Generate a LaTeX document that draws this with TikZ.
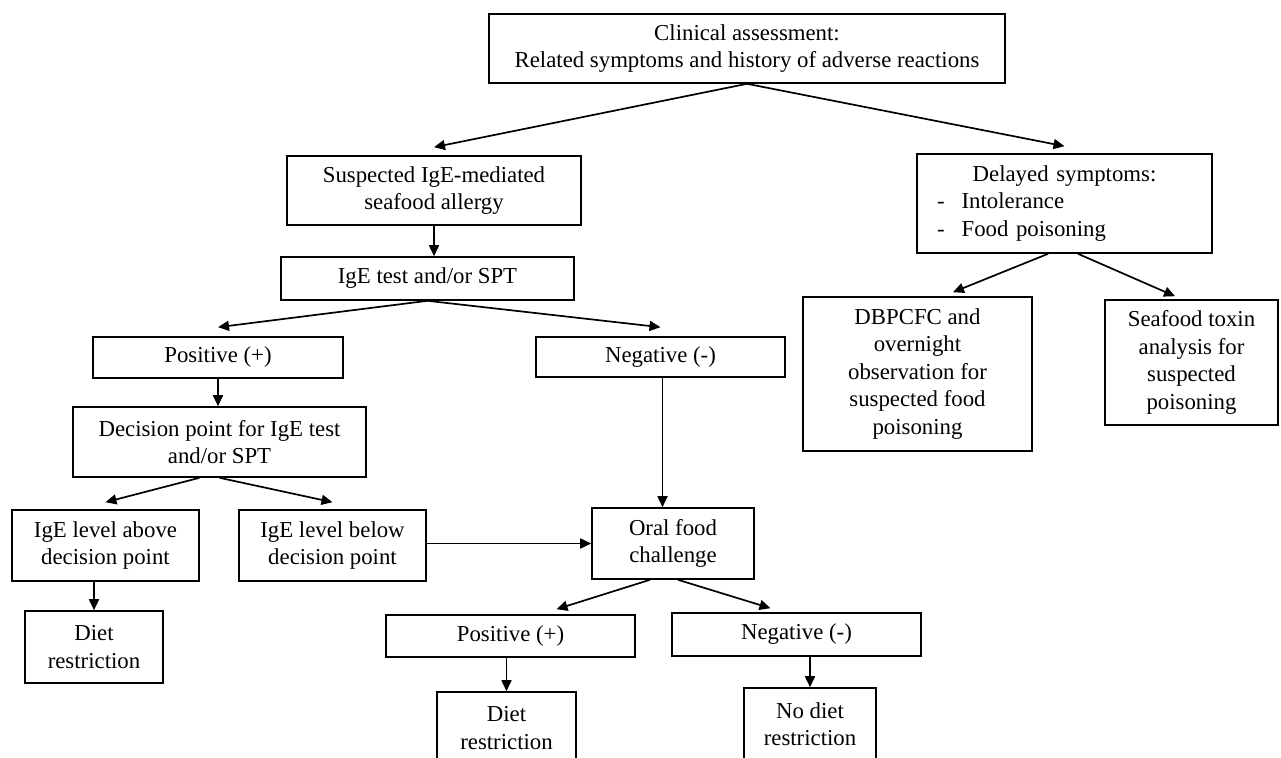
\documentclass[tikz,border=0pt]{standalone}
\usepackage{fontspec}
\setmainfont{Liberation Serif}
\usetikzlibrary{arrows.meta}
\begin{document}
\begin{tikzpicture}[x=1pt,y=-1pt,
  font=\fontsize{22.8}{27.5}\selectfont,
  box/.style={draw, line width=1.6pt, align=center, inner sep=0pt},
  arr/.style={line width=1.7pt, -{Triangle[length=11pt,width=10pt]}}]
  \useasboundingbox (0,0) rectangle (1281,757);
  % clinical branch
  \node[box, minimum width=516pt, minimum height=69pt] (assess) at (747,48.5) {Clinical assessment:\\ Related symptoms and history of adverse reactions};
  \node[box, minimum width=294pt, minimum height=69pt] (suspect) at (434,190.5) {Suspected IgE-mediated\\ seafood allergy};
  \node[box, minimum width=293pt, minimum height=43pt] (igetest) at (427.5,278.5) {IgE test and/or SPT};
  \node[box, minimum width=250pt, minimum height=41pt] (posA) at (218,357.5) {Positive (+)};
  \node[box, minimum width=249pt, minimum height=40pt] (negA) at (660.5,357) {Negative (-)};
  \node[box, minimum width=293pt, minimum height=70pt] (decision) at (219.5,442) {Decision point for IgE test\\ and/or SPT};
  \node[box, minimum width=187pt, minimum height=71pt] (above) at (105.5,545.5) {IgE level above\\ decision point};
  \node[box, minimum width=187pt, minimum height=71pt] (below) at (332.5,545.5) {IgE level below\\ decision point};
  \node[box, minimum width=138pt, minimum height=72pt] (dietA) at (94,647) {Diet\\ restriction};
  \node[box, minimum width=162pt, minimum height=71pt] (oral) at (673,543.5) {Oral food\\ challenge};
  \node[box, minimum width=249pt, minimum height=42pt] (posB) at (510.5,636) {Positive (+)};
  \node[box, minimum width=249pt, minimum height=43pt] (negB) at (796.5,634.5) {Negative (-)};
  \node[box, minimum width=139pt, minimum height=72pt] (dietB) at (506.5,728) {Diet\\ restriction};
  \node[box, minimum width=132pt, minimum height=72pt] (nodiet) at (810,724) {No diet\\ restriction};
  % delayed branch
  \node[box, align=left, text width=255pt, minimum width=295pt, minimum height=99pt] (delayed) at (1064.5,203.5)
    {\makebox[\linewidth]{Delayed symptoms:}\\ -\hspace{17pt}Intolerance\\ -\hspace{17pt}Food poisoning};
  \node[box, minimum width=229pt, minimum height=154pt] (dbpcfc) at (917.5,374) {DBPCFC and\\ overnight\\ observation for\\ suspected food\\ poisoning};
  \node[box, minimum width=173pt, minimum height=125pt] (toxin) at (1191.5,362.5) {Seafood toxin\\ analysis for\\ suspected\\ poisoning};

  \draw[arr] (assess.south) -- ([yshift=8pt]suspect.north);
  \draw[arr] (assess.south) -- ([yshift=7pt]delayed.north);
  \draw[arr] (suspect.south) -- (suspect.south |- igetest.north);
  \draw[arr] (igetest.south) -- ([yshift=9pt]posA.north);
  \draw[arr] (igetest.south) -- ([yshift=9pt]negA.north);
  \draw[arr] (posA.south) -- (posA.south |- decision.north);
  \draw[arr] ([xshift=-20pt]decision.south) -- ([yshift=7pt]above.north);
  \draw[arr] (decision.south) -- ([yshift=7pt]below.north);
  \draw[arr] (dietA.north |- above.south) -- (dietA.north);
  \draw[arr] (below.east |- oral.west) -- (oral.west);
  \draw[arr] ([xshift=2pt]negA.south) -- ([xshift=2pt]negA.south |- oral.north);
  \draw[arr] ([xshift=-23pt]oral.south) -- ([xshift=46pt,yshift=5pt]posB.north);
  \draw[arr] ([xshift=5pt]oral.south) -- ([xshift=-26pt,yshift=4pt]negB.north);
  \draw[arr] (dietB.north |- posB.south) -- (dietB.north);
  \draw[arr] (nodiet.north |- negB.south) -- (nodiet.north);
  \draw[arr] ([xshift=-16.5pt]delayed.south) -- ([xshift=35.5pt,yshift=4pt]dbpcfc.north);
  \draw[arr] ([xshift=13.5pt]delayed.south) -- ([xshift=-16.5pt,yshift=3pt]toxin.north);
\end{tikzpicture}
\end{document}
